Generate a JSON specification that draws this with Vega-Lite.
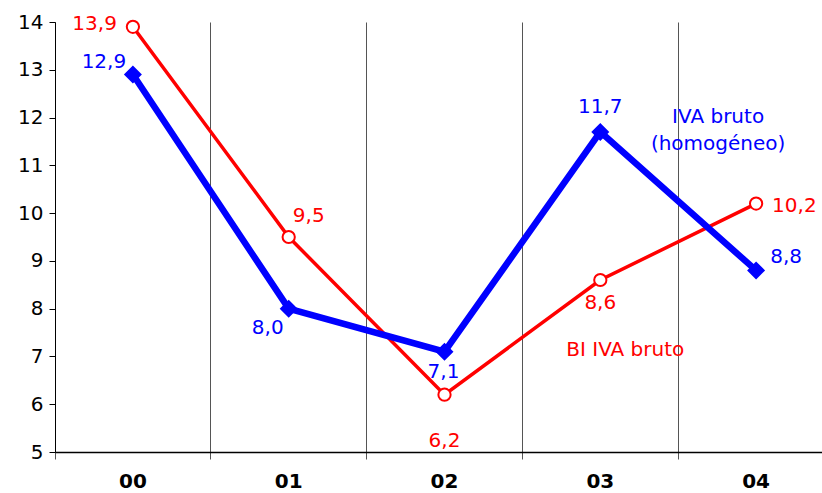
{
  "$schema": "https://vega.github.io/schema/vega-lite/v6.json",
  "width": 779,
  "height": 430,
  "autosize": {"type": "none"},
  "padding": {"left": 55, "top": 22, "right": 0, "bottom": 41},
  "background": "white",
  "config": {"view": {"stroke": null}, "font": "DejaVu Sans", "text": {"font": "DejaVu Sans", "fontSize": 20, "fontWeight": "normal"}},
  "data": {
    "values": [
      {"year": "00", "series": "BI", "value": 13.9, "label": "13,9"},
      {"year": "01", "series": "BI", "value": 9.5, "label": "9,5"},
      {"year": "02", "series": "BI", "value": 6.2, "label": "6,2"},
      {"year": "03", "series": "BI", "value": 8.6, "label": "8,6"},
      {"year": "04", "series": "BI", "value": 10.2, "label": "10,2"},
      {"year": "00", "series": "IVA", "value": 12.9, "label": "12,9"},
      {"year": "01", "series": "IVA", "value": 8.0, "label": "8,0"},
      {"year": "02", "series": "IVA", "value": 7.1, "label": "7,1"},
      {"year": "03", "series": "IVA", "value": 11.7, "label": "11,7"},
      {"year": "04", "series": "IVA", "value": 8.8, "label": "8,8"}
    ]
  },
  "encoding": {
    "x": {
      "field": "year", "type": "ordinal",
      "scale": {"type": "band", "paddingInner": 0, "paddingOuter": 0},
      "axis": {
        "title": null, "bandPosition": 0, "grid": true, "gridColor": "#555555", "gridWidth": 1,
        "domainColor": "black", "domainWidth": 1.5, "tickColor": "#555555", "tickSize": 7,
        "labelAngle": 0, "labelFontSize": 20, "labelFontWeight": "bold", "labelColor": "black",
        "labelPadding": 12, "labelFont": "DejaVu Sans"
      }
    },
    "y": {
      "field": "value", "type": "quantitative",
      "scale": {"domain": [5, 14], "nice": false, "zero": false},
      "axis": {
        "title": null, "grid": false, "values": [5, 6, 7, 8, 9, 10, 11, 12, 13, 14],
        "domainColor": "black", "tickColor": "black", "tickSize": 6,
        "labelFontSize": 20, "labelColor": "black", "labelPadding": 6, "labelFont": "DejaVu Sans"
      }
    }
  },
  "layer": [
    {"transform": [{"filter": "datum.series === 'BI'"}], "mark": {"type": "line", "color": "#FF0000", "strokeWidth": 3.5}},
    {"transform": [{"filter": "datum.series === 'BI'"}], "mark": {"type": "point", "shape": "circle", "filled": true, "fill": "white", "stroke": "#FF0000", "strokeWidth": 2, "size": 150, "opacity": 1}},
    {"transform": [{"filter": "datum.series === 'IVA'"}], "mark": {"type": "line", "color": "#0000FF", "strokeWidth": 6.5}},
    {"transform": [{"filter": "datum.series === 'IVA'"}], "mark": {"type": "point", "shape": "diamond", "filled": true, "fill": "#0000FF", "stroke": "#0000FF", "size": 230, "opacity": 1}},
    {"transform": [{"filter": "datum.label === '13,9' && datum.series === 'BI'"}], "mark": {"type": "text", "color": "#FF0000", "align": "right", "dx": -16, "dy": -3}, "encoding": {"text": {"field": "label"}}},
    {"transform": [{"filter": "datum.label === '9,5' && datum.series === 'BI'"}], "mark": {"type": "text", "color": "#FF0000", "dx": 20, "dy": -21}, "encoding": {"text": {"field": "label"}}},
    {"transform": [{"filter": "datum.label === '6,2' && datum.series === 'BI'"}], "mark": {"type": "text", "color": "#FF0000", "dx": 0, "dy": 46}, "encoding": {"text": {"field": "label"}}},
    {"transform": [{"filter": "datum.label === '8,6' && datum.series === 'BI'"}], "mark": {"type": "text", "color": "#FF0000", "dx": 0, "dy": 23}, "encoding": {"text": {"field": "label"}}},
    {"transform": [{"filter": "datum.label === '10,2' && datum.series === 'BI'"}], "mark": {"type": "text", "color": "#FF0000", "align": "left", "dx": 16, "dy": 2}, "encoding": {"text": {"field": "label"}}},
    {"transform": [{"filter": "datum.label === '12,9' && datum.series === 'IVA'"}], "mark": {"type": "text", "color": "#0000FF", "dx": -29, "dy": -13}, "encoding": {"text": {"field": "label"}}},
    {"transform": [{"filter": "datum.label === '8,0' && datum.series === 'IVA'"}], "mark": {"type": "text", "color": "#0000FF", "dx": -21, "dy": 19}, "encoding": {"text": {"field": "label"}}},
    {"transform": [{"filter": "datum.label === '7,1' && datum.series === 'IVA'"}], "mark": {"type": "text", "color": "#0000FF", "dx": -1, "dy": 20}, "encoding": {"text": {"field": "label"}}},
    {"transform": [{"filter": "datum.label === '11,7' && datum.series === 'IVA'"}], "mark": {"type": "text", "color": "#0000FF", "dx": 0, "dy": -25}, "encoding": {"text": {"field": "label"}}},
    {"transform": [{"filter": "datum.label === '8,8' && datum.series === 'IVA'"}], "mark": {"type": "text", "color": "#0000FF", "dx": 30, "dy": -13}, "encoding": {"text": {"field": "label"}}},
    {
      "transform": [{"filter": "datum.label === '8,8' && datum.series === 'IVA'"}],
      "mark": {"type": "text", "color": "#0000FF", "lineHeight": 27, "dx": -38, "fontWeight": "normal"},
      "encoding": {"x": {"datum": "04"}, "y": {"datum": 12.02}, "text": {"value": ["IVA  bruto", "(homogéneo)"]}}
    },
    {
      "transform": [{"filter": "datum.label === '8,6' && datum.series === 'BI'"}],
      "mark": {"type": "text", "color": "#FF0000", "dx": 25, "fontWeight": "normal"},
      "encoding": {"x": {"datum": "03"}, "y": {"datum": 7.13}, "text": {"value": "BI IVA bruto"}}
    }
  ]
}
